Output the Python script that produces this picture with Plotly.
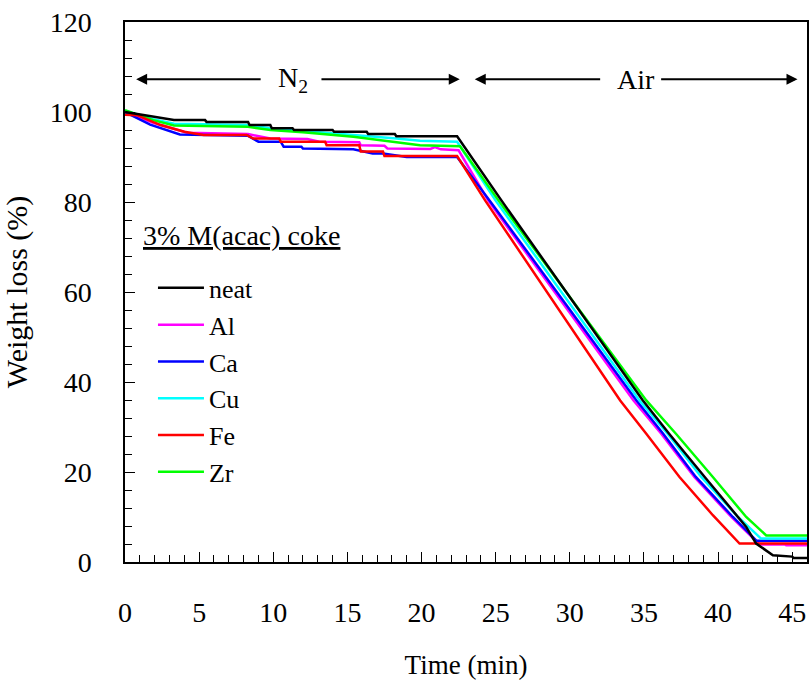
import plotly.graph_objects as go

# Thermogravimetric traces of 3% M(acac) coke: N2 hold then air burn-off
t_neat = [0, 1.2, 3.3, 5.4, 5.5, 8.3, 8.4, 9.8, 9.9, 11.3, 11.4, 14.0, 14.1, 16.3, 16.4, 18.2, 18.3, 22.4,
          25.4, 34.93, 36.7, 39.1, 41.35, 41.9, 42.57, 43.7, 45.0, 45.1, 46.0]
w_neat = [100.0, 99.4, 98.2, 98.2, 97.8, 97.8, 97.1, 97.1, 96.4, 96.4, 96.0, 96.0, 95.6, 95.6, 95.1, 95.1, 94.6, 94.6,
          80.3, 35.9, 28.5, 18.9, 10.0, 7.8, 4.1, 1.5, 1.2, 0.9, 0.9]

t_al = [0, 1.9, 4.2, 8.3, 9.8, 12.3, 13.1, 15.8, 15.9, 17.5, 17.7, 20.6, 20.9, 21.3, 22.5,
        24.5, 34.3, 36.17, 38.4, 40.9, 42.8, 44.5, 44.6, 46.0]
w_al = [100.0, 97.6, 95.4, 95.1, 94.1, 94.0, 93.4, 93.3, 92.6, 92.5, 91.9, 91.8, 92.2, 91.7, 91.5,
        80.3, 35.9, 28.5, 18.9, 10.0, 3.9, 3.9, 3.7, 3.7]

t_ca = [0, 1.7, 3.7, 8.3, 9.0, 10.5, 10.7, 11.9, 12.0, 15.4, 16.7, 17.4, 19.0, 22.4,
        24.6, 34.5, 36.3, 38.5, 41.0, 42.6, 46.0]
w_ca = [100.0, 97.2, 95.0, 94.7, 93.4, 93.4, 92.3, 92.3, 91.9, 91.7, 90.8, 90.8, 90.0, 90.0,
        80.3, 35.9, 28.5, 18.9, 10.0, 4.7, 4.7]

t_cu = [0, 1.9, 3.3, 8.3, 9.8, 11.3, 13.2, 15.4, 18.3, 19.9, 22.4,
        25.0, 34.7, 36.6, 38.87, 41.35, 42.9, 46.0]
w_cu = [100.3, 98.4, 97.4, 97.1, 96.4, 96.0, 95.6, 94.9, 94.1, 93.6, 93.4,
        80.3, 35.9, 28.5, 18.9, 10.0, 5.2, 5.2]

t_fe = [0, 0.8, 2.4, 4.0, 5.3, 8.2, 8.65, 10.4, 10.5, 13.5, 13.6, 15.8, 15.9, 17.4, 17.5, 22.4,
        24.3, 33.4, 35.16, 37.4, 39.65, 41.45, 46.0]
w_fe = [99.4, 99.3, 97.1, 95.6, 94.9, 94.9, 94.1, 94.1, 93.4, 93.4, 92.6, 92.6, 91.2, 91.2, 90.2, 90.2,
        80.3, 35.9, 28.5, 18.9, 10.4, 4.1, 4.1]

t_zr = [0, 1.9, 3.3, 8.3, 9.8, 12.0, 15.4, 18.3, 19.9, 22.6,
        25.2, 35.16, 37.16, 39.65, 41.9, 43.25, 46.0]
w_zr = [100.4, 98.2, 97.0, 96.7, 96.0, 95.5, 94.5, 93.2, 92.6, 92.4,
        80.3, 35.9, 28.5, 18.9, 10.0, 5.9, 5.9]

x_ticks = [0, 5, 10, 15, 20, 25, 30, 35, 40, 45]
y_ticks = [0, 20, 40, 60, 80, 100, 120]

FONT = "Liberation Serif, Times New Roman, serif"

# (name, times, weights, colour, legend rank); listed in drawing order
series = [
    ("Al", t_al, w_al, "#FF00FF", 2),
    ("Ca", t_ca, w_ca, "#0000FF", 3),
    ("Cu", t_cu, w_cu, "#00FFFF", 4),
    ("Zr", t_zr, w_zr, "#00FF00", 6),
    ("Fe", t_fe, w_fe, "#FF0000", 5),
    ("neat", t_neat, w_neat, "#000000", 1),
]

fig = go.Figure()
for name, t, w, colour, rank in series:
    fig.add_trace(go.Scatter(
        x=t, y=w, mode="lines", name=name, legendrank=rank,
        line=dict(color=colour, width=2.5),
    ))

axis_common = dict(
    showline=True, linecolor="black", linewidth=1.5, mirror=True,
    showgrid=False, zeroline=False,
    ticks="inside", ticklen=10, tickwidth=1.2, tickcolor="black",
    tickfont=dict(family=FONT, size=28, color="black"),
)

fig.update_xaxes(
    range=[0, 46], tickvals=x_ticks,
    minor=dict(dtick=1, ticks="inside", ticklen=7, tickcolor="black", tickwidth=1),
    ticklabelstandoff=25,
    title=dict(text="Time (min)", font=dict(family=FONT, size=27, color="black"), standoff=28),
    **axis_common,
)
fig.update_yaxes(
    range=[0, 120], tickvals=y_ticks,
    minor=dict(dtick=4, ticks="inside", ticklen=7, tickcolor="black", tickwidth=1),
    ticklabelstandoff=26,
    title=dict(text="Weight loss (%)", font=dict(family=FONT, size=30, color="black"), standoff=22),
    **axis_common,
)

# Atmosphere markers: double-headed arrows with the gas label between them
arrow_y = 107.3
arrows = [(9.25, 0.75), (13.15, 22.58), (32.15, 23.59), (36.06, 45.36)]
for tail, head in arrows:
    fig.add_annotation(
        x=head, y=arrow_y, ax=tail, ay=arrow_y, xref="x", yref="y", axref="x", ayref="y",
        text="", showarrow=True, arrowhead=2, arrowsize=1.1, arrowwidth=2, arrowcolor="black",
        standoff=0, startstandoff=0,
    )
fig.add_annotation(x=11.35, y=arrow_y, xref="x", yref="y", text="N<sub>2</sub>", showarrow=False,
                   font=dict(family=FONT, size=28, color="black"))
fig.add_annotation(x=34.44, y=arrow_y, xref="x", yref="y", text="Air", showarrow=False,
                   font=dict(family=FONT, size=28, color="black"))

# Legend heading
fig.add_annotation(x=1.1, y=72.6, xref="x", yref="y", xanchor="left", text="<u>3% M(acac) coke</u>",
                   showarrow=False, font=dict(family=FONT, size=28, color="black"))

fig.update_layout(
    width=812, height=685,
    margin=dict(l=125, r=3, t=22, b=123),
    paper_bgcolor="white", plot_bgcolor="white",
    showlegend=True,
    legend=dict(
        x=0.041, y=0.551, xanchor="left", yanchor="top",
        bgcolor="rgba(0,0,0,0)", borderwidth=0,
        font=dict(family=FONT, size=26, color="black"),
        itemwidth=46, tracegroupgap=0,
    ),
)

fig.write_html("out.html")
